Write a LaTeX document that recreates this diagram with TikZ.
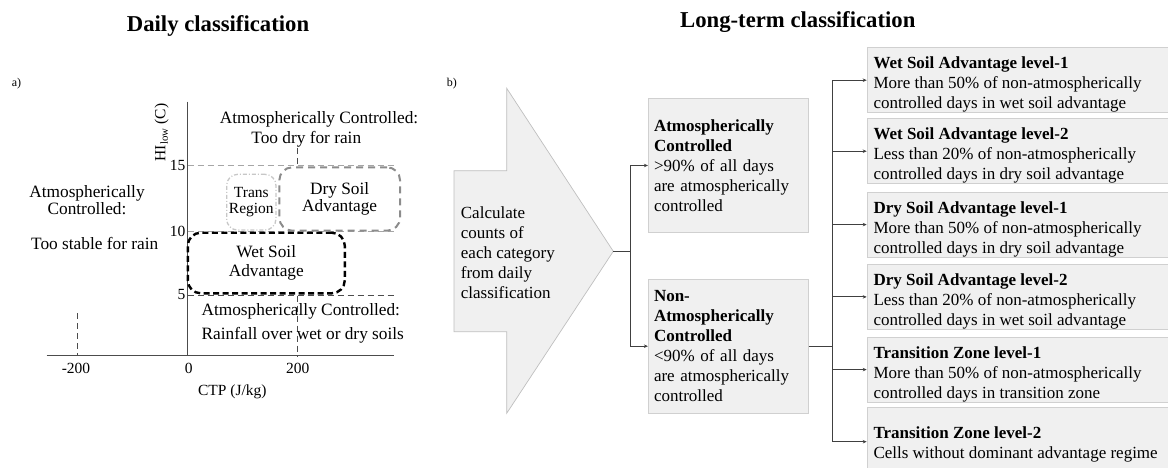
\documentclass[tikz,border=0pt]{standalone}
\usepackage{fontspec}
\setmainfont{Liberation Serif}
\usetikzlibrary{arrows.meta,calc}
\definecolor{boxfill}{HTML}{F0F0F0}
\definecolor{boxline}{HTML}{D0D0D0}
\definecolor{connc}{HTML}{404040}
\begin{document}
\begin{tikzpicture}[x=1pt,y=-1pt,
  titletext/.style={font=\fontsize{22.7}{26}\selectfont\bfseries, inner sep=0pt},
  panellab/.style={font=\fontsize{12}{14}\selectfont, inner sep=0pt, anchor=base west},
  lab/.style={font=\fontsize{17.3}{17}\selectfont, inner sep=0pt, align=center},
  ticklab/.style={font=\fontsize{15.5}{16}\selectfont, inner sep=0pt},
  axisline/.style={draw=black!70, line width=0.9pt},
  refdash/.style={draw=black!70, line width=0.8pt, dash pattern=on 6pt off 4pt},
  refdashlight/.style={draw=black!35, line width=0.8pt, dash pattern=on 6pt off 4pt},
  wetbox/.style={draw=black, line width=2.4pt, dash pattern=on 6pt off 3.5pt, rounded corners=13pt,
     font=\fontsize{17.3}{18.5}\selectfont, align=center, inner sep=0pt},
  drybox/.style={draw=black!45, line width=2pt, dash pattern=on 7pt off 5pt, rounded corners=13pt,
     font=\fontsize{17.3}{16.5}\selectfont, align=center, inner sep=0pt},
  transbox/.style={draw=black!22, line width=1.3pt, dash pattern=on 4pt off 2pt on 1pt off 2pt, rounded corners=11pt,
     font=\fontsize{15.5}{16}\selectfont, align=center, inner sep=0pt},
  bigarrow/.style={fill=boxfill, draw=black!25, line width=0.7pt},
  bodytext/.style={font=\fontsize{17}{20}\selectfont, inner sep=0pt, align=left},
  midbox/.style={fill=boxfill, draw=boxline, line width=0.8pt, minimum width=160pt,
     text width=148.6pt, inner xsep=5.7pt, inner ysep=0pt, align=left,
     font=\fontsize{17}{20}\selectfont},
  rbox/.style={fill=boxfill, draw=boxline, line width=0.8pt, minimum width=330pt, minimum height=65pt, inner sep=0pt},
  rtext/.style={font=\fontsize{17}{20}\selectfont, inner sep=0pt, align=left, anchor=north west},
  conn/.style={draw=connc, line width=1.1pt},
  arr/.style={conn, -{Stealth[length=4pt,width=3.5pt]}}
]
\useasboundingbox (0,0) rectangle (1168,468);

% ---------- titles ----------
\node[titletext, anchor=base west] (tdaily) at (126.7,31.7) {Daily classification};
\node[titletext, anchor=base west] (tlong) at (680,27.3) {Long-term classification};

% ---------- panel a ----------
\node[panellab] (pa) at (11.7,86.5) {a)};
\draw[axisline] (46.7,355.7) -- (394,355.7);
\draw[axisline] (187.7,101.7) -- (187.7,355.7);
\draw[refdashlight] (187.7,165.7) -- (395,165.7);
\draw[refdashlight] (187.7,231.7) -- (395,231.7);
\draw[refdash] (187.7,295.5) -- (395,295.5);
\draw[refdash] (297.7,148) -- (297.7,165.7);
\draw[refdash] (297.7,295.5) -- (297.7,355.7);
\draw[refdash] (77.7,313) -- (77.7,355.7);

\node[ticklab, anchor=east] (y15) at (185.5,165.3) {15};
\node[ticklab, anchor=east] (y10) at (185.5,231.3) {10};
\node[ticklab, anchor=east] (y5) at (185.5,294.5) {5};
\node[ticklab] (xm200) at (76,368.8) {-200};
\node[ticklab] (x0) at (188.7,368.8) {0};
\node[ticklab] (x200) at (297.7,368.8) {200};
\node[ticklab] (xlab) at (232.3,391.5) {CTP (J/kg)};
\node[ticklab, rotate=90] (ylab) at (161.7,132.4) {HI\textsubscript{low} (C)};

\node[wetbox, minimum width=157pt, minimum height=60.6pt] (wet) at (266.3,263) {Wet Soil\\Advantage};
\node[drybox, minimum width=120.7pt, minimum height=63.4pt] (dry) at (339.7,199) {Dry Soil\\Advantage};
\node[transbox, minimum width=49.3pt, minimum height=55.7pt] (trans) at (251.3,202.2) {Trans\\Region};

\node[lab] (actop) at (319,119.5) {Atmospherically Controlled:};
\node[lab] (acdry) at (306.3,138.8) {Too dry for rain};
\node[lab] (acleft) at (87,200) {Atmospherically\\Controlled:};
\node[lab] (acstable) at (94.7,243.2) {Too stable for rain};
\node[lab] (acbot) at (300.8,311.5) {Atmospherically Controlled:};
\node[lab] (acrain) at (302.8,335.5) {Rainfall over wet or dry soils};

% ---------- panel b ----------
\node[panellab] (pb) at (446.7,87) {b)};
\draw[bigarrow] (454,170.7) -- (506.7,170.7) -- (506.7,88.3) -- (613.3,251.3)
   -- (506.7,413.3) -- (506.7,331.7) -- (454,331.7) -- cycle;
\coordinate (tip) at (613.3,251.3);
\node[bodytext, anchor=north west] (calc) at (460.7,206.6)
  {Calculate\\counts of\\each category\\from daily\\classification};

\node[midbox, minimum height=134.4pt] (ac) at (728.3,165.5)
  {\textbf{Atmospherically}\\\textbf{Controlled}\\>90\% of all days\\are atmospherically\\controlled};
\node[midbox, minimum height=134.3pt] (nac) at (728.3,346.2)
  {\textbf{Non-}\\\textbf{Atmospherically}\\\textbf{Controlled}\\<90\% of all days\\are atmospherically\\controlled};

\coordinate (j1) at (630.7,251.3);
\draw[conn] (tip) -- (j1);
\draw[arr] (j1) |- (ac.west);
\draw[arr] (j1) |- (nac.west);

\node[rbox, anchor=north west] (b1) at (866.7,47.3) {};
\node[rbox, anchor=north west] (b2) at (866.7,118.3) {};
\node[rbox, anchor=north west] (b3) at (866.7,191.7) {};
\node[rbox, anchor=north west] (b4) at (866.7,264) {};
\node[rbox, anchor=north west] (b5) at (866.7,336.7) {};
\node[rbox, anchor=north west, minimum height=68pt] (b6) at (866.7,407.3) {};

\node[rtext] (t1) at ($(b1.north west)+(6.6,9.4)$)
  {\textbf{Wet Soil Advantage level-1}\\More than 50\% of non-atmospherically\\controlled days in wet soil advantage};
\node[rtext] (t2) at ($(b2.north west)+(6.6,9.4)$)
  {\textbf{Wet Soil Advantage level-2}\\Less than 20\% of non-atmospherically\\controlled days in dry soil advantage};
\node[rtext] (t3) at ($(b3.north west)+(6.6,9.4)$)
  {\textbf{Dry Soil Advantage level-1}\\More than 50\% of non-atmospherically\\controlled days in dry soil advantage};
\node[rtext] (t4) at ($(b4.north west)+(6.6,9.4)$)
  {\textbf{Dry Soil Advantage level-2}\\Less than 20\% of non-atmospherically\\controlled days in wet soil advantage};
\node[rtext] (t5) at ($(b5.north west)+(6.6,9.4)$)
  {\textbf{Transition Zone level-1}\\More than 50\% of non-atmospherically\\controlled days in transition zone};
\node[rtext] (t6) at ($(b6.north west)+(6.6,18.9)$)
  {\textbf{Transition Zone level-2}\\Cells without dominant advantage regime};

\coordinate (j2) at (832.3,346.2);
\draw[conn] (nac.east) -- (j2);
\foreach \b in {b1,b2,b3,b4,b5,b6}{
  \draw[arr] (j2) |- (\b.west);
}
\end{tikzpicture}
\end{document}
